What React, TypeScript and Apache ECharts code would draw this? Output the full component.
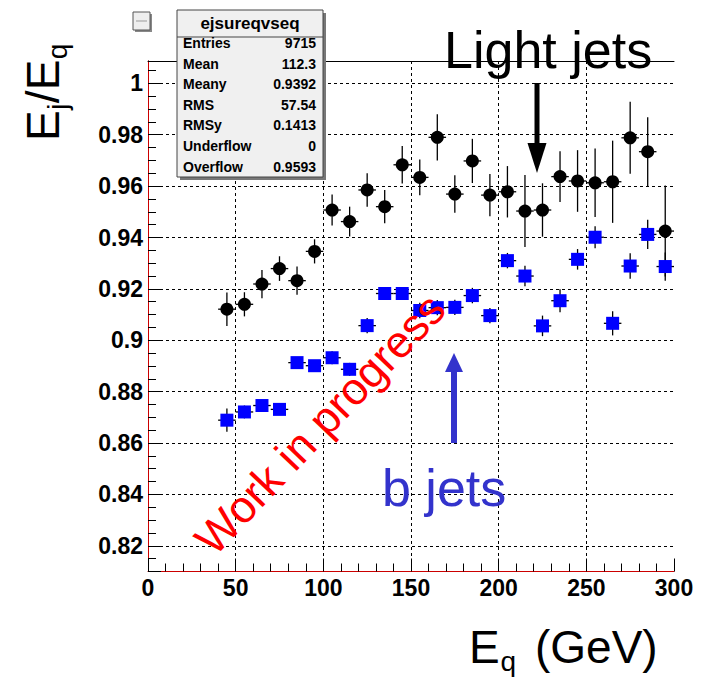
import React, { useEffect, useRef } from 'react';
import * as echarts from 'echarts';

// ---- data ----
const xCenters = [45, 55, 65, 75, 85, 95, 105, 115, 125, 135, 145, 155, 165, 175, 185, 195, 205, 215, 225, 235, 245, 255, 265, 275, 285, 295];
const lightJetsY = [0.9121, 0.914, 0.9219, 0.9279, 0.9232, 0.9346, 0.9507, 0.9462, 0.9585, 0.952, 0.9683, 0.9634, 0.979, 0.9569, 0.9698, 0.9565, 0.9578, 0.9503, 0.9507, 0.9637, 0.962, 0.9613, 0.9617, 0.9788, 0.9734, 0.9425];
const lightJetsErr = [0.0065, 0.0047, 0.0055, 0.0048, 0.0055, 0.0047, 0.006, 0.0058, 0.0065, 0.0065, 0.0073, 0.007, 0.009, 0.0073, 0.0086, 0.0082, 0.01, 0.014, 0.0104, 0.0099, 0.012, 0.0133, 0.016, 0.014, 0.0134, 0.0177];
const bJetsY = [0.8689, 0.8721, 0.8746, 0.8731, 0.8913, 0.8901, 0.8932, 0.8887, 0.9057, 0.9182, 0.9182, 0.9116, 0.9127, 0.9128, 0.9174, 0.9096, 0.931, 0.925, 0.9056, 0.9154, 0.9315, 0.9401, 0.9066, 0.9289, 0.9412, 0.9287];
const bJetsErr = [0.0045, 0.0025, 0.002, 0.002, 0.002, 0.002, 0.0025, 0.0025, 0.003, 0.002, 0.002, 0.003, 0.003, 0.003, 0.003, 0.003, 0.003, 0.004, 0.004, 0.0045, 0.004, 0.0043, 0.0047, 0.005, 0.0057, 0.0055];
const binHalfWidth = 5;

const xMin = 0;
const xMax = 300;
const xInterval = 50;
const yMin = 0.81;
const yMax = 1.0087;
const yInterval = 0.02;

const statsTitle = 'ejsureqvseq';
const statsLabels = ['Entries', 'Mean', 'Meany', 'RMS', 'RMSy', 'Underflow', 'Overflow'];
const statsValues = ['9715', '112.3', '0.9392', '57.54', '0.1413', '0', '0.9593'];

const FONT = '"Liberation Sans", Arial, Helvetica, sans-serif';

function txt(text: string, x: number, y: number, fontSize: number, opts: any = {}) {
  const align = opts.align || 'left';
  return {
    type: 'text',
    x,
    y,
    z: 100,
    rotation: opts.rotation || 0,
    style: {
      text,
      fontSize,
      fontFamily: FONT,
      fontWeight: opts.bold ? 'bold' : 'normal',
      fill: opts.color || '#000',
      align,
      textAlign: align,
      verticalAlign: 'middle',
      textVerticalAlign: 'middle',
    },
  };
}

function errorBarSeries(data: number[][], color: string) {
  return {
    type: 'custom',
    xAxisIndex: 0,
    yAxisIndex: 0,
    z: 2,
    data,
    encode: { x: 0, y: 1 },
    renderItem: (params: any, api: any) => {
      const x = api.value(0);
      const y = api.value(1);
      const e = api.value(2);
      const top = api.coord([x, y + e]);
      const bot = api.coord([x, y - e]);
      const l = api.coord([x - binHalfWidth, y]);
      const r = api.coord([x + binHalfWidth, y]);
      const st = { stroke: color, lineWidth: 1.3 };
      return {
        type: 'group',
        children: [
          { type: 'line', shape: { x1: top[0], y1: top[1], x2: bot[0], y2: bot[1] }, style: st },
          { type: 'line', shape: { x1: l[0], y1: l[1], x2: r[0], y2: r[1] }, style: st },
        ],
      };
    },
  };
}

export default function App() {
  const ref = useRef<HTMLDivElement>(null);

  useEffect(() => {
    document.body.style.margin = '0';
    const chart = echarts.init(ref.current!, null, { renderer: 'svg' });

    const lightData = xCenters.map((x, i) => [x, lightJetsY[i], lightJetsErr[i]]);
    const bData = xCenters.map((x, i) => [x, bJetsY[i], bJetsErr[i]]);

    const blue = '#3333cc';
    const graphics: any[] = [];

    // stats box
    graphics.push({ type: 'rect', z: 90, shape: { x: 180, y: 13, width: 146, height: 167 }, style: { fill: '#777' } });
    graphics.push({ type: 'rect', z: 91, shape: { x: 177, y: 10, width: 146, height: 167 }, style: { fill: '#f0f0f0', stroke: '#444', lineWidth: 1 } });
    graphics.push({ type: 'line', z: 92, shape: { x1: 177, y1: 37, x2: 323, y2: 37 }, style: { stroke: '#444', lineWidth: 1 } });
    graphics.push(txt(statsTitle, 250, 23, 17, { bold: true, align: 'center' }));
    statsLabels.forEach((lab, i) => {
      const yy = 43 + i * 20.6;
      graphics.push(txt(lab, 183, yy, 14, { bold: true }));
      graphics.push(txt(statsValues[i], 316, yy, 14, { bold: true, align: 'right' }));
    });

    // small icon
    graphics.push({ type: 'rect', z: 90, shape: { x: 135, y: 14, width: 17, height: 18 }, style: { fill: '#888' } });
    graphics.push({ type: 'rect', z: 91, shape: { x: 133, y: 12, width: 17, height: 18 }, style: { fill: '#eee', stroke: '#555', lineWidth: 1 } });
    graphics.push({ type: 'line', z: 92, shape: { x1: 136, y1: 21, x2: 147, y2: 21 }, style: { stroke: '#999', lineWidth: 1 } });

    // annotations
    graphics.push(txt('Light jets', 444, 50, 52));
    graphics.push({ type: 'line', z: 100, shape: { x1: 537, y1: 83, x2: 537, y2: 150 }, style: { stroke: '#000', lineWidth: 5 } });
    graphics.push({ type: 'polygon', z: 100, shape: { points: [[527.5, 143], [546.5, 143], [537, 173]] }, style: { fill: '#000' } });

    graphics.push(txt('b jets', 382, 488, 52, { color: blue }));
    graphics.push({ type: 'line', z: 100, shape: { x1: 454, y1: 443, x2: 454, y2: 368 }, style: { stroke: blue, lineWidth: 6 } });
    graphics.push({ type: 'polygon', z: 100, shape: { points: [[445, 372], [463, 372], [454, 353]] }, style: { fill: blue } });

    graphics.push(txt('Work in progress', 320, 424, 45, { color: '#ff0000', align: 'center', rotation: (46.5 * Math.PI) / 180 }));

    // axis titles
    graphics.push(txt('E', 469, 647.4, 46));
    graphics.push(txt('q', 500.5, 661.7, 28));
    graphics.push(txt('(GeV)', 535, 647.4, 46));

    const rot = Math.PI / 2;
    graphics.push(txt('E', 43, 141, 46, { rotation: rot }));
    graphics.push(txt('j', 57, 109.8, 28, { rotation: rot }));
    graphics.push(txt('/', 43, 103.3, 46, { rotation: rot }));
    graphics.push(txt('E', 43, 90.2, 46, { rotation: rot }));
    graphics.push(txt('q', 57, 59.3, 28, { rotation: rot }));

    const labelStyle = { color: '#000', fontSize: 23, fontWeight: 'bold', fontFamily: FONT };
    const gridLine = { show: true, showMinLine: false, showMaxLine: false, lineStyle: { color: '#000', type: [3, 3], width: 1 } };

    const option: any = {
      animation: false,
      backgroundColor: '#fff',
      grid: { left: 148, top: 61, right: 33, bottom: 107.5, containLabel: false, outerBoundsMode: 'none' },
      xAxis: [
        {
          type: 'value',
          position: 'bottom',
          min: xMin,
          max: xMax,
          interval: xInterval,
          axisLine: { show: true, lineStyle: { color: '#cc0000', width: 1 } },
          axisTick: { show: true, inside: true, length: 13, lineStyle: { color: '#000', width: 1 } },
          minorTick: { show: true, splitNumber: 5, length: 8, lineStyle: { color: '#000', width: 1 } },
          axisLabel: { ...labelStyle, margin: 5 },
          splitLine: gridLine,
        },
        {
          type: 'value',
          position: 'top',
          min: xMin,
          max: xMax,
          interval: xInterval,
          axisLine: { show: true, lineStyle: { color: '#000', width: 1 } },
          axisTick: { show: false },
          axisLabel: { show: false },
          splitLine: { show: false },
        },
      ],
      yAxis: [
        {
          type: 'value',
          position: 'left',
          min: yMin,
          max: yMax,
          minInterval: yInterval,
          maxInterval: yInterval,
          splitNumber: 9,
          axisLine: { show: true, lineStyle: { color: '#000', width: 1 } },
          axisTick: { show: true, inside: true, length: 13, lineStyle: { color: '#000', width: 1 } },
          minorTick: { show: true, splitNumber: 4, length: 8, lineStyle: { color: '#000', width: 1 } },
          axisLabel: {
            ...labelStyle,
            margin: 5,
            formatter: (v: number) => {
              const k = v / yInterval;
              if (Math.abs(k - Math.round(k)) > 1e-6) return '';
              return String(+v.toFixed(2));
            },
          },
          splitLine: gridLine,
        },
        {
          type: 'value',
          position: 'right',
          min: yMin,
          max: yMax,
          axisLine: { show: true, lineStyle: { color: '#cc0000', width: 1 } },
          axisTick: { show: false },
          axisLabel: { show: false },
          splitLine: { show: false },
        },
      ],
      series: [
        errorBarSeries(lightData, '#000'),
        errorBarSeries(bData, '#000'),
        {
          type: 'scatter',
          xAxisIndex: 0,
          yAxisIndex: 0,
          z: 3,
          symbol: 'circle',
          symbolSize: 13,
          itemStyle: { color: '#000', opacity: 1 },
          data: xCenters.map((x, i) => [x, lightJetsY[i]]),
        },
        {
          type: 'scatter',
          xAxisIndex: 0,
          yAxisIndex: 0,
          z: 3,
          symbol: 'rect',
          symbolSize: 13,
          itemStyle: { color: '#0000ff', opacity: 1 },
          data: xCenters.map((x, i) => [x, bJetsY[i]]),
        },
      ],
      graphic: { elements: graphics },
    };

    chart.setOption(option);
    return () => chart.dispose();
  }, []);

  return <div ref={ref} style={{ position: 'absolute', left: 0, top: 0, width: 707, height: 679, background: '#fff' }} />;
}
